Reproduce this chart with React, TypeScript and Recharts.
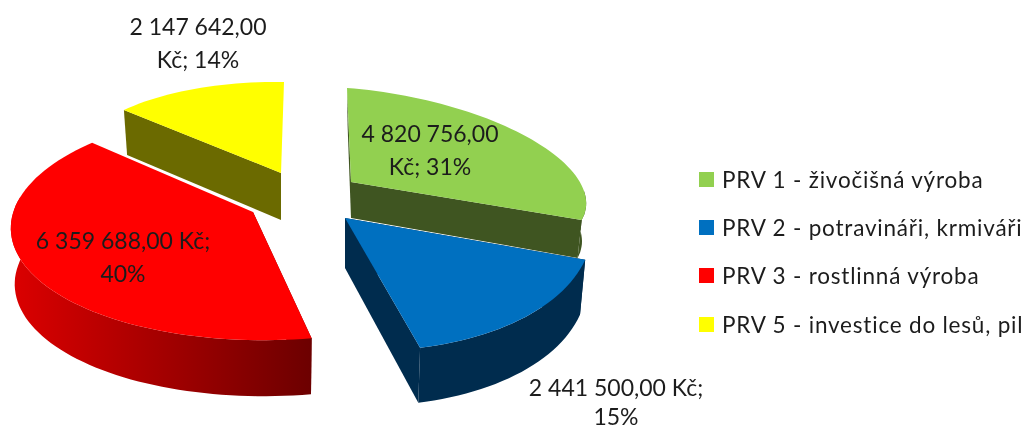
import { PieChart, Pie, Cell, Legend } from "recharts";

const categories = [
  "PRV 1 - živočišná výroba",
  "PRV 2 - potravináři, krmiváři",
  "PRV 3 - rostlinná výroba",
  "PRV 5 - investice do lesů, pil",
];
const amounts = [4820756, 2441500, 6359688, 2147642];
const COLORS = ["#92D050", "#0070C0", "#FF0000", "#FFFF00"];
const WALLS = ["#3F5521", "#002C4E", "url(#redWall)", "#6B6A00"];

const data = categories.map((name, i) => ({ name, value: amounts[i] }));

// fitted projection of each exploded slice (the 3D look of the original)
const PROJECTION = [
  { ax: 351, ay: 182, ex: 377, ey: 175, a: 207, b: -30, c: 87, d: 16, depth: 38, apexDepth: 36, shrink: 0.98 },
  { ax: 345, ay: 218, ex: 326, ey: 205, a: 265, b: -30, c: 146, d: 5, depth: 55, apexDepth: 50, shrink: 0.98 },
  { ax: 253, ay: 212, ex: 272, ey: 224, a: 260, b: 25, c: 116, d: 7, depth: 56, apexDepth: 54, shrink: 0.985 },
  { ax: 281, ay: 173, ex: 284, ey: 170, a: 212, b: 0, c: 88, d: 3, depth: 45, apexDepth: 47, shrink: 0.98 },
];

// label anchors: centre x, first baseline, line gap, and how many words go on line one
const LABELS = [
  { x: 430, y: 142, gap: 33, words: 3 },
  { x: 616, y: 396, gap: 29, words: 4 },
  { x: 123, y: 249, gap: 33, words: 4 },
  { x: 198, y: 35, gap: 33, words: 3 },
];

const FONT = "Lato, 'Open Sans', sans-serif";
const rad = Math.PI / 180;

function rim(g: any, t: number) {
  const s = Math.sin(t * rad);
  const c = Math.cos(t * rad);
  return { x: g.ex + g.a * s + g.b * c, y: g.ey - g.c * c + g.d * s };
}

function under(g: any, p: { x: number; y: number }) {
  return { x: g.ex + (p.x - g.ex) * g.shrink, y: p.y + g.depth };
}

function toPath(points: { x: number; y: number }[]) {
  return "M" + points.map((p) => `${p.x.toFixed(1)},${p.y.toFixed(1)}`).join("L") + "Z";
}

function arc(g: any, from: number, to: number) {
  const points = [];
  for (let t = from; t < to; t += 2) points.push(rim(g, t));
  points.push(rim(g, to));
  return points;
}

function Slice3D(props: any) {
  const i = categories.indexOf(props.name);
  const g = PROJECTION[i];
  // recharts angles run counter-clockwise from 3 o'clock
  const from = 90 - props.startAngle;
  const to = 90 - props.endAngle;
  const apex = { x: g.ax, y: g.ay };
  const apexLow = { x: g.ax, y: g.ay + g.apexDepth };
  const a0 = rim(g, from);
  const a1 = rim(g, to);
  const wallFrom = Math.max(from, 90);
  const wallTo = Math.min(to, 280);
  const outer = wallFrom < wallTo ? arc(g, wallFrom, wallTo) : [];
  return (
    <g>
      <defs>
        <linearGradient id="redWall" gradientUnits="userSpaceOnUse" x1="10" y1="0" x2="313" y2="0">
          <stop offset="0" stopColor="#DC0000" />
          <stop offset="1" stopColor="#6C0000" />
        </linearGradient>
      </defs>
      <path d={toPath([a0, under(g, a0), apexLow, apex])} fill={WALLS[i]} />
      {to < 300 && <path d={toPath([a1, under(g, a1), apexLow, apex])} fill={WALLS[i]} />}
      {outer.length > 0 && (
        <path d={toPath([...outer, ...outer.map((p) => under(g, p)).reverse()])} fill={WALLS[i]} />
      )}
      <path d={toPath([apex, ...arc(g, from, to)])} fill={props.fill} />
    </g>
  );
}

function SliceLabel(props: any) {
  const i = categories.indexOf(props.name);
  const pos = LABELS[i];
  const money = String(props.value).replace(/\B(?=(\d{3})+$)/g, " ") + ",00";
  const words = `${money} Kč; ${Math.round(props.percent * 100)}%`.split(" ");
  return (
    <text x={pos.x} y={pos.y} textAnchor="middle" fontFamily={FONT} fontSize={23} fill="#1c1c1c">
      <tspan x={pos.x}>{words.slice(0, pos.words).join(" ")}</tspan>
      <tspan x={pos.x} dy={pos.gap}>{words.slice(pos.words).join(" ")}</tspan>
    </text>
  );
}

function LegendRows(props: any) {
  return (
    <div>
      {props.payload.map((entry: any) => (
        <div key={entry.value} style={{ display: "flex", alignItems: "center", height: 48.4 }}>
          <span style={{ width: 15, height: 15, background: entry.color, marginRight: 8 }} />
          <span style={{ fontFamily: FONT, fontSize: 22.5, color: "#1c1c1c", whiteSpace: "nowrap", letterSpacing: 0.8 }}>
            {entry.value}
          </span>
        </div>
      ))}
    </div>
  );
}

export default function App() {
  return (
    <div style={{ position: "absolute", left: 0, top: 0, width: 1027, height: 430, overflow: "hidden", filter: "blur(0.5px)" }}>
      <PieChart width={1027} height={430} margin={{ top: 0, right: 0, bottom: 0, left: 0 }}>
        <Pie
          data={data}
          dataKey="value"
          nameKey="name"
          cx={315}
          cy={200}
          outerRadius={150}
          startAngle={90}
          endAngle={-270}
          stroke="none"
          shape={Slice3D}
          label={SliceLabel}
          labelLine={false}
          isAnimationActive={false}
        >
          {data.map((entry, index) => (
            <Cell key={`cell-${index}`} fill={COLORS[index]} />
          ))}
        </Pie>
        <Legend
          layout="vertical"
          content={LegendRows}
          wrapperStyle={{ left: 699, top: 155, width: 328 }}
        />
      </PieChart>
    </div>
  );
}
